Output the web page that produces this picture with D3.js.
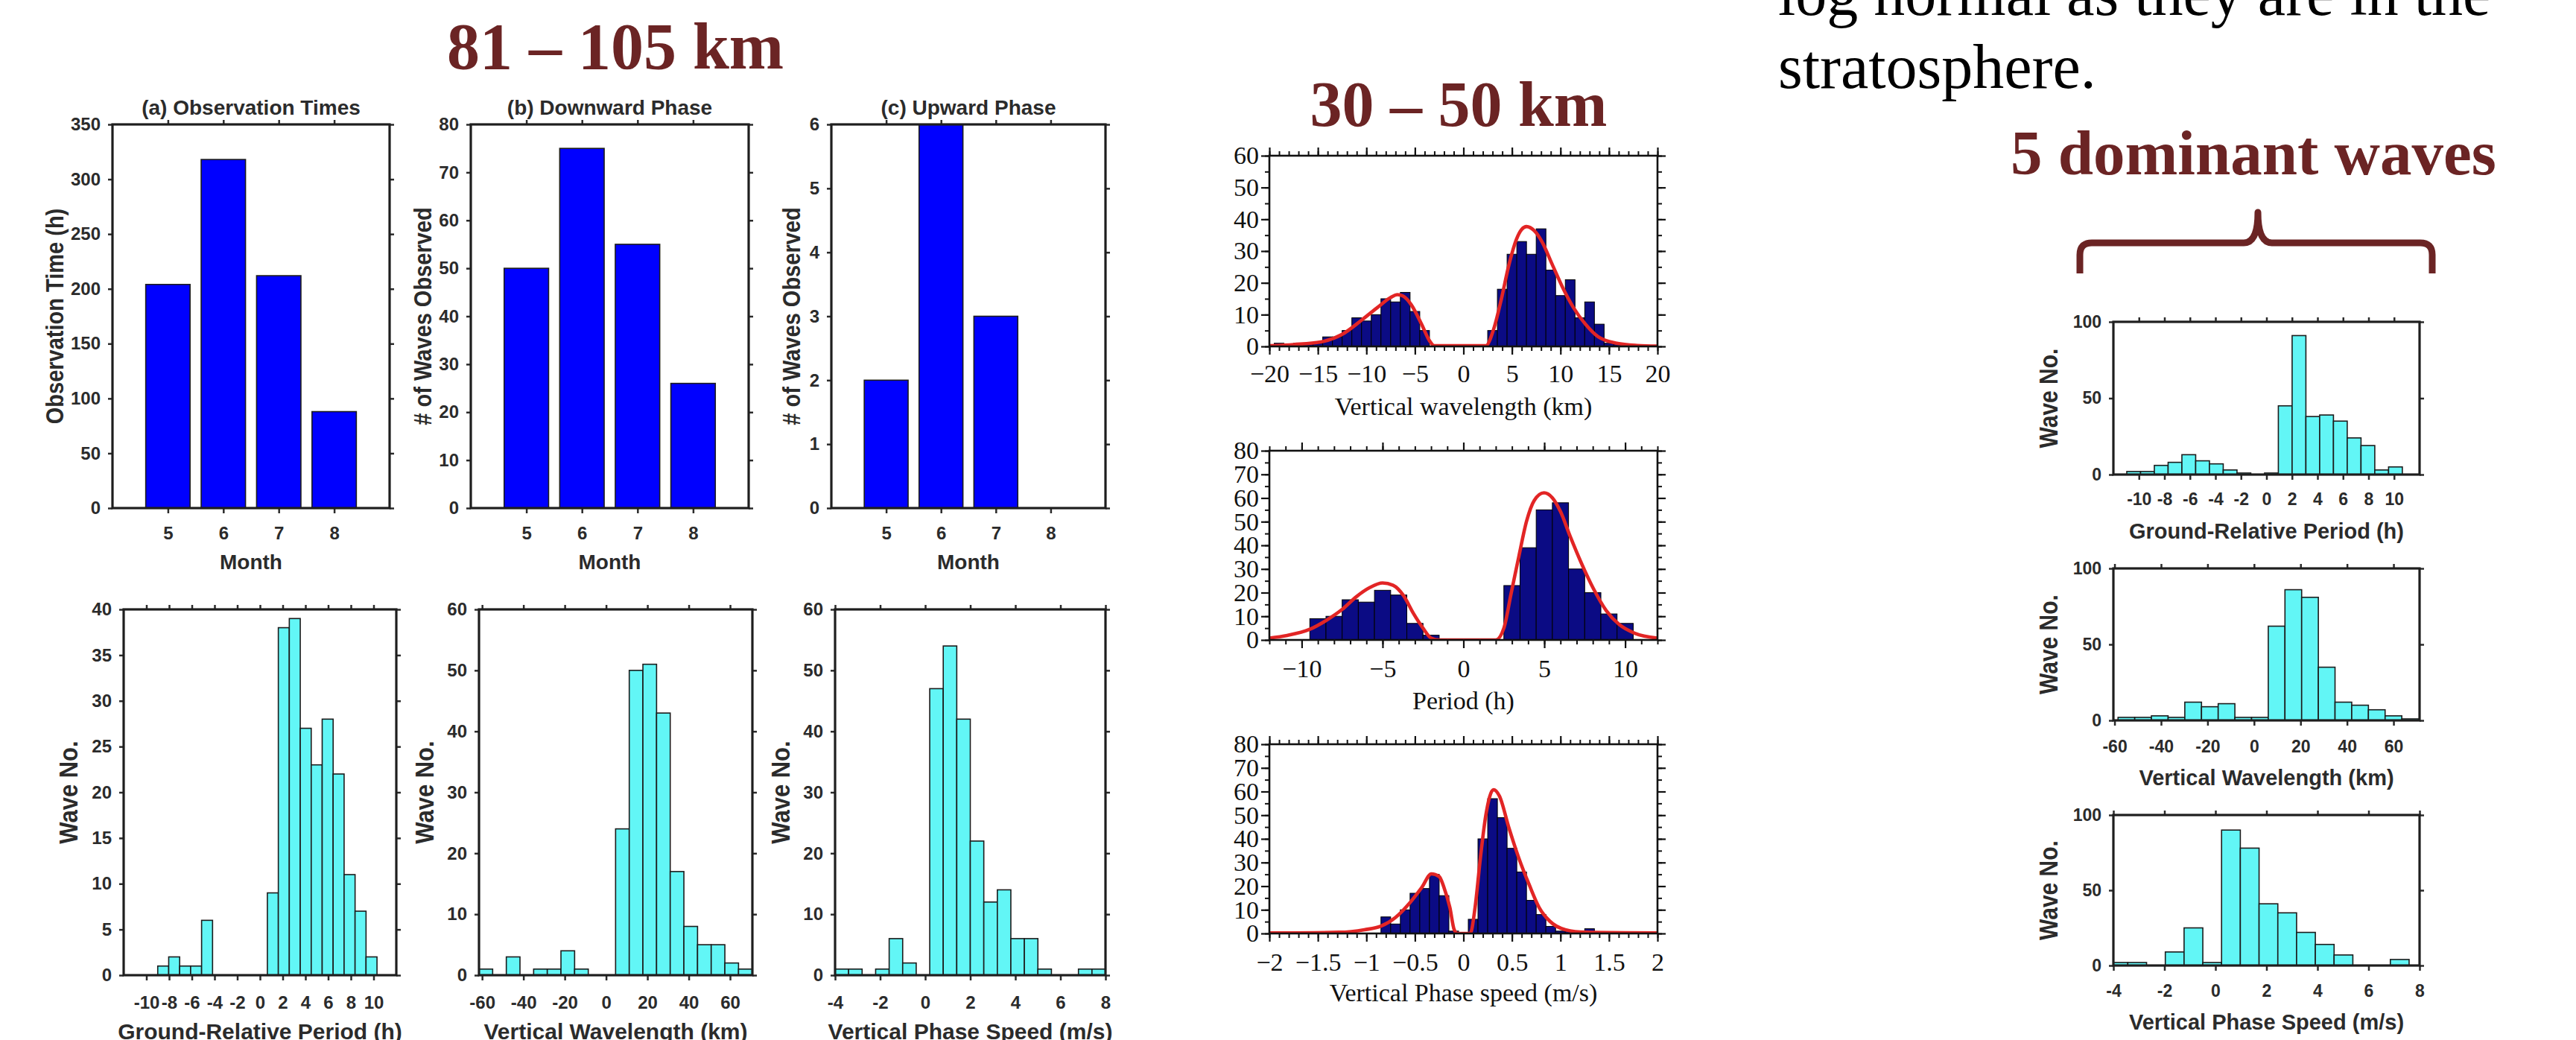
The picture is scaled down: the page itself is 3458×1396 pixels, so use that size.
<!DOCTYPE html>
<html>
<head>
<meta charset="utf-8">
<title>Gravity wave statistics</title>
<script src="https://cdn.jsdelivr.net/npm/d3@7"></script>
<style>
  html, body { margin: 0; padding: 0; background: #fff; }
  svg { display: block; }
</style>
</head>
<body>
<svg id="chart" width="3458" height="1396"></svg>
<script>
// ---------- 81-105 km: monthly bars ----------
const months = [5, 6, 7, 8];
const observationHours = [204, 318, 212, 88];
const downwardWaves = [50, 75, 55, 26];
const upwardWaves = [2, 6, 3, 0];

// ---------- 81-105 km histograms (first bin edge, bin width, counts) ----------
const periodStart = -9, periodWidth = 0.965;
const periodCounts = [1, 2, 1, 1, 6, 0, 0, 0, 0, 0, 9, 38, 39, 27, 23, 28, 22, 11, 7, 2];
const lambdaStart = -61.5, lambdaWidth = 6.61;
const lambdaCounts = [1, 0, 3, 0, 1, 1, 4, 1, 0, 0, 24, 50, 51, 43, 17, 8, 5, 5, 2, 1];
const speedStart = -4, speedWidth = 0.6;
const speedCounts = [1, 1, 0, 1, 6, 2, 0, 47, 54, 42, 22, 12, 14, 6, 6, 1, 0, 0, 1, 1];

// ---------- 30-50 km histograms and fitted curves ----------
const strLambdaStart = -19.5, strLambdaWidth = 1;
const strLambdaCounts = [1, 0, 1, 1, 1, 3, 3, 5, 9, 8, 10, 15, 14, 17, 11, 5, 0, 0, 0, 0, 0, 0,
                         5, 18, 29, 33, 29, 37, 24, 16, 21, 9, 14, 7, 1, 1];
const strPeriodStart = -9.5, strPeriodWidth = 1;
const strPeriodCounts = [9, 10, 17, 16, 21, 19, 7, 2, 0, 0, 0, 0, 23, 39, 55, 58, 30, 20, 11, 7];
const strSpeedStart = -0.85, strSpeedWidth = 0.1;
const strSpeedCounts = [7, 4, 10, 17, 19, 25, 16, 1, 0, 6, 40, 57, 49, 36, 26, 14, 8, 3, 1, 1, 1, 2];

const strLambdaFit = [[-20, 0.2], [-17.5, 0.6], [-14.7, 1.4], [-12.5, 3.8], [-10.4, 8.5], [-8.8, 12.4],
  [-7.5, 15.4], [-6.8, 16.3], [-6.2, 15.8], [-5.4, 13.2], [-4.3, 6.9], [-3.5, 1.8], [-3.0, 0.2],
  [2.3, 0.2], [3.1, 5.3], [3.9, 14.8], [4.7, 25.8], [5.45, 33.6], [6.0, 36.8], [6.5, 37.7],
  [7.3, 36.4], [8.1, 32.9], [9.15, 25.8], [10.2, 18.7], [11.3, 12.4], [12.6, 6.9], [13.9, 3.0],
  [15.8, 1.0], [17.9, 0.3], [20, 0.1]];
const strPeriodFit = [[-12, 0.8], [-10.9, 1.9], [-9.5, 4.5], [-8.5, 8.2], [-7.5, 12.9], [-6.6, 18.4],
  [-5.8, 22.1], [-5.0, 24.1], [-4.35, 23.1], [-3.7, 18.7], [-3.1, 11.3], [-2.5, 5.0], [-2.0, 0.8],
  [-1.5, 0], [2.0, 0], [2.5, 5], [2.95, 19.7], [3.43, 35.4], [3.9, 50.1], [4.38, 59], [4.98, 62.2],
  [5.5, 60.1], [6.0, 54.3], [6.6, 43.8], [7.24, 33.3], [8.03, 21.8], [8.83, 12.4], [9.62, 6.6],
  [10.57, 2.9], [12, 0.8]];
const strSpeedFit = [[-2, 0.2], [-1.28, 0.5], [-1.02, 1.6], [-0.85, 3.1], [-0.7, 6.8], [-0.55, 13.1],
  [-0.43, 19.4], [-0.33, 25.2], [-0.25, 24.1], [-0.2, 19.4], [-0.14, 11], [-0.095, 1.6], [-0.06, 0],
  [0.07, 0], [0.12, 11], [0.175, 32], [0.23, 49.8], [0.31, 60.8], [0.37, 58.2], [0.47, 44.5],
  [0.57, 32], [0.68, 20.4], [0.78, 11], [0.89, 5.2], [1.05, 1.6], [1.26, 0.5], [2, 0.2]];

// ---------- 5 dominant waves ----------
const domPeriodStart = -10.95, domPeriodWidth = 1.08;
const domPeriodCounts = [2, 2, 6, 8, 13, 9, 7, 3, 1, 0, 1, 45, 91, 38, 39, 35, 24, 19, 3, 5];
const domLambdaStart = -58.5, domLambdaWidth = 7.18;
const domLambdaCounts = [2, 2, 3, 2, 12, 9, 11, 2, 2, 62, 86, 81, 35, 12, 10, 7, 3, 1];
const domSpeedStart = -4.17, domSpeedWidth = 0.735;
const domSpeedCounts = [2, 2, 0, 9, 25, 2, 90, 78, 41, 35, 22, 14, 7, 0, 0, 4];

const SANS = "'Liberation Sans', Arial, Helvetica, sans-serif";
const SERIF = "'Liberation Serif', 'Times New Roman', serif";
const INK = "#2b2b2b";
const MAROON = "#6b2424";
const CYAN = "#62f6f6";
const BLUE = "#0000ff";
const NAVY = "#0b0b84";
const RED = "#e22525";

const svg = d3.select("#chart");
const defs = svg.append("defs");
let clipNo = 0;

function addClip(l, r, t, b) {
    const id = "clip" + (clipNo++);
    defs.append("clipPath").attr("id", id)
        .append("rect").attr("x", l).attr("y", t).attr("width", r - l).attr("height", b - t);
    return `url(#${id})`;
}

function toBins(start, width, counts) {
    return counts.map((n, i) => ({ x0: start + i * width, x1: start + (i + 1) * width, n }));
}

function monthBins(values) {
    return months.map((m, i) => ({ x0: m - 0.4, x1: m + 0.4, n: values[i] }));
}

function styleAxis(sel, family, size, weight, color, lw) {
    sel.select(".domain").remove();
    sel.attr("font-family", family).attr("font-size", size).attr("font-weight", weight).attr("color", color);
    sel.selectAll("line").attr("stroke-width", lw);
}

// MATLAB-like panel (left block and right block)
function matlabPanel(p) {
    const x = d3.scaleLinear().domain(p.xDomain).range([p.left, p.right]);
    const y = d3.scaleLinear().domain(p.yDomain).range([p.bottom, p.top]);
    const g = svg.append("g");
    const fmt = d => String(d);

    g.append("g").attr("clip-path", addClip(p.left, p.right, p.top, p.bottom))
        .selectAll("rect").data(p.bins.filter(d => d.n > 0)).join("rect")
        .attr("x", d => x(d.x0))
        .attr("width", d => x(d.x1) - x(d.x0))
        .attr("y", d => y(d.n))
        .attr("height", d => y(0) - y(d.n))
        .attr("fill", p.fill)
        .attr("stroke", "#1c1c1c")
        .attr("stroke-width", 1.6);

    const bottom = g.append("g").attr("transform", `translate(0,${p.bottom})`)
        .call(d3.axisBottom(x).tickValues(p.xTicks).tickSize(7).tickFormat(fmt));
    styleAxis(bottom, SANS, p.tickSize, "bold", INK, 2.5);
    bottom.selectAll("text").attr("y", p.xTickOff).attr("dy", "0.35em");

    const top = g.append("g").attr("transform", `translate(0,${p.top})`)
        .call(d3.axisTop(x).tickValues(p.xTicks).tickSize(6).tickFormat(""));
    styleAxis(top, SANS, p.tickSize, "bold", INK, 2.5);

    const left = g.append("g").attr("transform", `translate(${p.left},0)`)
        .call(d3.axisLeft(y).tickValues(p.yTicks).tickSize(6).tickPadding(10).tickFormat(fmt));
    styleAxis(left, SANS, p.tickSize, "bold", INK, 2.5);

    const right = g.append("g").attr("transform", `translate(${p.right},0)`)
        .call(d3.axisRight(y).tickValues(p.yTicks).tickSize(6).tickFormat(""));
    styleAxis(right, SANS, p.tickSize, "bold", INK, 2.5);

    g.append("rect")
        .attr("x", p.left).attr("y", p.top)
        .attr("width", p.right - p.left).attr("height", p.bottom - p.top)
        .attr("fill", "none").attr("stroke", "#1e1e1e").attr("stroke-width", 3.2);

    const cx = (p.left + p.right) / 2;
    if (p.title) {
        g.append("text").attr("x", cx).attr("y", p.titleY).attr("dy", "0.35em")
            .attr("text-anchor", "middle").attr("font-family", SANS).attr("font-weight", "bold")
            .attr("font-size", p.labelSize).attr("fill", INK).text(p.title);
    }
    g.append("text").attr("x", cx).attr("y", p.xLabelY).attr("dy", "0.35em")
        .attr("text-anchor", "middle").attr("font-family", SANS).attr("font-weight", "bold")
        .attr("font-size", p.labelSize).attr("fill", INK).text(p.xLabel);
    g.append("text")
        .attr("transform", `translate(${p.yLabelX},${(p.top + p.bottom) / 2}) rotate(-90) scale(1,1.15)`)
        .attr("dy", "0.35em")
        .attr("text-anchor", "middle").attr("font-family", SANS).attr("font-weight", "bold")
        .attr("font-size", p.yLabelSize).attr("fill", INK).text(p.yLabel);
}

// Times / minor-tick panel (30-50 km)
function serifPanel(p) {
    const x = d3.scaleLinear().domain(p.xDomain).range([p.left, p.right]);
    const y = d3.scaleLinear().domain(p.yDomain).range([p.bottom, p.top]);
    const g = svg.append("g");
    const fmt = d => (d < 0 ? "\u2212" + Math.abs(d) : String(Math.abs(d)));
    const clip = addClip(p.left, p.right, p.top, p.bottom);

    g.append("g").attr("clip-path", clip)
        .selectAll("rect").data(p.bins.filter(d => d.n > 0)).join("rect")
        .attr("x", d => x(d.x0))
        .attr("width", d => x(d.x1) - x(d.x0))
        .attr("y", d => y(d.n))
        .attr("height", d => y(0) - y(d.n))
        .attr("fill", NAVY)
        .attr("stroke", "#000")
        .attr("stroke-width", 1);

    const line = d3.line()
        .x(d => x(d[0]))
        .y(d => y(d[1]))
        .curve(d3.curveMonotoneX);
    g.append("path").attr("clip-path", clip)
        .datum(p.fit)
        .attr("d", line)
        .attr("fill", "none")
        .attr("stroke", RED)
        .attr("stroke-width", 4.6)
        .attr("stroke-linejoin", "round");

    const xMajor = x.ticks(p.xMajor), xMinor = x.ticks(p.xMinor);
    const yMajor = y.ticks(p.yMajor), yMinor = y.ticks(p.yMinor);

    const axes = [
        [d3.axisBottom, x, `translate(0,${p.bottom})`],
        [d3.axisTop, x, `translate(0,${p.top})`],
        [d3.axisLeft, y, `translate(${p.left},0)`],
        [d3.axisRight, y, `translate(${p.right},0)`]
    ];
    axes.forEach(([maker, scale, tr], i) => {
        const isX = i < 2;
        const minor = g.append("g").attr("transform", tr)
            .call(maker(scale).tickValues(isX ? xMinor : yMinor).tickSize(6).tickFormat(""));
        styleAxis(minor, SERIF, 34, "normal", "#111", 2);
        const major = g.append("g").attr("transform", tr)
            .call(maker(scale).tickValues(isX ? xMajor : yMajor).tickSize(11).tickPadding(3)
                .tickFormat(i === 0 || i === 2 ? fmt : ""));
        styleAxis(major, SERIF, 34, "normal", "#111", 2.2);
        if (i === 0) major.selectAll("text").attr("y", p.xTickOff).attr("dy", "0.35em");
    });

    g.append("rect")
        .attr("x", p.left).attr("y", p.top)
        .attr("width", p.right - p.left).attr("height", p.bottom - p.top)
        .attr("fill", "none").attr("stroke", "#111").attr("stroke-width", 2.6);

    g.append("text").attr("x", (p.left + p.right) / 2).attr("y", p.xLabelY).attr("dy", "0.35em")
        .attr("text-anchor", "middle").attr("font-family", SERIF)
        .attr("font-size", 34).attr("fill", "#111").text(p.xLabel);
}

// ---------- headings and annotation ----------
svg.append("text").attr("x", 826).attr("y", 92).attr("text-anchor", "middle")
    .attr("font-family", SERIF).attr("font-weight", "bold").attr("font-size", 88)
    .attr("fill", MAROON).text("81 \u2013 105 km");
svg.append("text").attr("x", 1958).attr("y", 169).attr("text-anchor", "middle")
    .attr("font-family", SERIF).attr("font-weight", "bold").attr("font-size", 86)
    .attr("fill", MAROON).text("30 \u2013 50 km");
svg.append("text").attr("x", 2387).attr("y", 20)
    .attr("font-family", SERIF).attr("font-size", 84).attr("fill", "#000")
    .text("log normal as they are in the");
svg.append("text").attr("x", 2387).attr("y", 118)
    .attr("font-family", SERIF).attr("font-size", 84).attr("fill", "#000")
    .text("stratosphere.");
svg.append("text").attr("x", 2699).attr("y", 234)
    .attr("font-family", SERIF).attr("font-weight", "bold").attr("font-size", 85)
    .attr("fill", MAROON).text("5 dominant waves");
svg.append("path")
    .attr("d", "M2792,367 L2792,342 Q2792,326 2808,326 L3012,326 Q3031,326 3031,285 " +
               "Q3031,326 3050,326 L3249,326 Q3265,326 3265,342 L3265,367")
    .attr("fill", "none").attr("stroke", MAROON).attr("stroke-width", 9)
    .attr("stroke-linejoin", "round");

// ---------- 81-105 km, top row ----------
matlabPanel({
    left: 151, right: 523, top: 167, bottom: 682,
    xDomain: [4, 9], xTicks: months, yDomain: [0, 350], yTicks: d3.range(0, 351, 50),
    bins: monthBins(observationHours), fill: BLUE,
    title: "(a) Observation Times", titleY: 144,
    xLabel: "Month", xLabelY: 754, yLabel: "Observation Time (h)", yLabelX: 73,
    tickSize: 24, labelSize: 28, yLabelSize: 29, xTickOff: 34
});
matlabPanel({
    left: 632, right: 1005, top: 167, bottom: 682,
    xDomain: [4, 9], xTicks: months, yDomain: [0, 80], yTicks: d3.range(0, 81, 10),
    bins: monthBins(downwardWaves), fill: BLUE,
    title: "(b) Downward Phase", titleY: 144,
    xLabel: "Month", xLabelY: 754, yLabel: "# of Waves Observed", yLabelX: 567,
    tickSize: 24, labelSize: 28, yLabelSize: 29, xTickOff: 34
});
matlabPanel({
    left: 1116, right: 1484, top: 167, bottom: 682,
    xDomain: [4, 9], xTicks: months, yDomain: [0, 6], yTicks: d3.range(0, 7, 1),
    bins: monthBins(upwardWaves), fill: BLUE,
    title: "(c) Upward Phase", titleY: 144,
    xLabel: "Month", xLabelY: 754, yLabel: "# of Waves Observed", yLabelX: 1062,
    tickSize: 24, labelSize: 28, yLabelSize: 29, xTickOff: 34
});

// ---------- 81-105 km, bottom row ----------
matlabPanel({
    left: 166, right: 532, top: 818, bottom: 1309,
    xDomain: [-12, 12], xTicks: d3.range(-10, 11, 2), yDomain: [0, 40], yTicks: d3.range(0, 41, 5),
    bins: toBins(periodStart, periodWidth, periodCounts), fill: CYAN,
    xLabel: "Ground-Relative Period (h)", xLabelY: 1384, yLabel: "Wave No.", yLabelX: 92,
    tickSize: 24, labelSize: 30, yLabelSize: 31, xTickOff: 37
});
matlabPanel({
    left: 643, right: 1010, top: 818, bottom: 1309,
    xDomain: [-61.5, 70.8], xTicks: d3.range(-60, 61, 20), yDomain: [0, 60], yTicks: d3.range(0, 61, 10),
    bins: toBins(lambdaStart, lambdaWidth, lambdaCounts), fill: CYAN,
    xLabel: "Vertical Wavelength (km)", xLabelY: 1384, yLabel: "Wave No.", yLabelX: 570,
    tickSize: 24, labelSize: 30, yLabelSize: 31, xTickOff: 37
});
matlabPanel({
    left: 1121, right: 1484, top: 818, bottom: 1309,
    xDomain: [-4, 8], xTicks: d3.range(-4, 9, 2), yDomain: [0, 60], yTicks: d3.range(0, 61, 10),
    bins: toBins(speedStart, speedWidth, speedCounts), fill: CYAN,
    xLabel: "Vertical Phase Speed (m/s)", xLabelY: 1384, yLabel: "Wave No.", yLabelX: 1048,
    tickSize: 24, labelSize: 30, yLabelSize: 31, xTickOff: 37
});

// ---------- 30-50 km ----------
serifPanel({
    left: 1704, right: 2225, top: 209, bottom: 465,
    xDomain: [-20, 20], xMajor: 8, xMinor: 40, yDomain: [0, 60], yMajor: 6, yMinor: 12,
    bins: toBins(strLambdaStart, strLambdaWidth, strLambdaCounts), fit: strLambdaFit,
    xLabel: "Vertical wavelength (km)", xLabelY: 545, xTickOff: 36
});
serifPanel({
    left: 1704, right: 2225, top: 605, bottom: 859,
    xDomain: [-12, 12], xMajor: 5, xMinor: 24, yDomain: [0, 80], yMajor: 8, yMinor: 16,
    bins: toBins(strPeriodStart, strPeriodWidth, strPeriodCounts), fit: strPeriodFit,
    xLabel: "Period (h)", xLabelY: 940, xTickOff: 38
});
serifPanel({
    left: 1704, right: 2225, top: 999, bottom: 1253,
    xDomain: [-2, 2], xMajor: 8, xMinor: 40, yDomain: [0, 80], yMajor: 8, yMinor: 16,
    bins: toBins(strSpeedStart, strSpeedWidth, strSpeedCounts), fit: strSpeedFit,
    xLabel: "Vertical Phase speed (m/s)", xLabelY: 1332, xTickOff: 38
});

// ---------- 5 dominant waves ----------
matlabPanel({
    left: 2837, right: 3248, top: 432, bottom: 637,
    xDomain: [-12, 12], xTicks: d3.range(-10, 11, 2), yDomain: [0, 100], yTicks: [0, 50, 100],
    bins: toBins(domPeriodStart, domPeriodWidth, domPeriodCounts), fill: CYAN,
    xLabel: "Ground-Relative Period (h)", xLabelY: 713, yLabel: "Wave No.", yLabelX: 2750,
    tickSize: 23, labelSize: 29, yLabelSize: 30, xTickOff: 33
});
matlabPanel({
    left: 2837, right: 3248, top: 763, bottom: 967,
    xDomain: [-60.5, 71.2], xTicks: d3.range(-60, 61, 20), yDomain: [0, 100], yTicks: [0, 50, 100],
    bins: toBins(domLambdaStart, domLambdaWidth, domLambdaCounts), fill: CYAN,
    xLabel: "Vertical Wavelength (km)", xLabelY: 1044, yLabel: "Wave No.", yLabelX: 2750,
    tickSize: 23, labelSize: 29, yLabelSize: 30, xTickOff: 35
});
matlabPanel({
    left: 2837, right: 3248, top: 1094, bottom: 1296,
    xDomain: [-4, 8], xTicks: d3.range(-4, 9, 2), yDomain: [0, 100], yTicks: [0, 50, 100],
    bins: toBins(domSpeedStart, domSpeedWidth, domSpeedCounts), fill: CYAN,
    xLabel: "Vertical Phase Speed (m/s)", xLabelY: 1372, yLabel: "Wave No.", yLabelX: 2750,
    tickSize: 23, labelSize: 29, yLabelSize: 30, xTickOff: 34
});
</script>
</body>
</html>
